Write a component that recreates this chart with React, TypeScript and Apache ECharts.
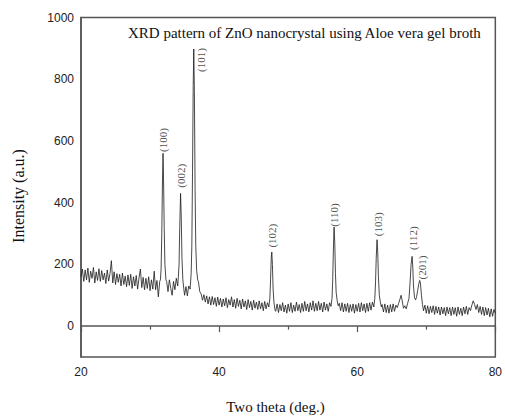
import React, { useEffect, useRef } from "react";
import * as echarts from "echarts";

// XRD pattern: [two theta (deg), intensity (a.u.)]
const region20to32: number[][] = [
  [20.0, 160], [20.2, 185], [20.4, 145], [20.6, 182], [20.8, 150], [21.0, 188], [21.2, 142], [21.4, 178],
  [21.6, 155], [21.8, 190], [22.0, 140], [22.2, 176], [22.4, 148], [22.6, 186], [22.8, 145], [23.0, 180],
  [23.2, 150], [23.4, 172], [23.6, 138], [23.8, 182], [24.0, 146], [24.2, 170], [24.4, 212], [24.6, 140],
  [24.8, 176], [25.0, 135], [25.2, 170], [25.4, 142], [25.6, 168], [25.8, 130], [26.0, 172], [26.2, 135],
  [26.4, 162], [26.6, 128], [26.8, 166], [27.0, 132], [27.2, 168], [27.4, 122], [27.6, 160], [27.8, 130],
  [28.0, 164], [28.2, 120], [28.4, 156], [28.6, 185], [28.8, 125], [29.0, 158], [29.2, 118], [29.4, 155],
  [29.6, 122], [29.8, 160], [30.0, 115], [30.2, 150], [30.4, 120], [30.6, 178], [30.8, 118], [31.0, 148],
  [31.2, 95], [31.4, 145], [31.5, 150], [31.6, 185], [31.7, 300], [31.8, 470], [31.88, 560], [31.95, 480],
  [32.05, 320], [32.15, 200], [32.3, 150],
];
const region32to39: number[][] = [
  [32.4, 145], [32.6, 112], [32.8, 150], [33.0, 122], [33.2, 100], [33.4, 145], [33.6, 118], [33.8, 155],
  [34.0, 130], [34.1, 160], [34.2, 200], [34.3, 320], [34.42, 430], [34.52, 350], [34.62, 220], [34.75, 150],
  [34.9, 118], [35.0, 100], [35.2, 128], [35.4, 98], [35.6, 130], [35.8, 120], [35.95, 170], [36.05, 260],
  [36.15, 500], [36.25, 780], [36.33, 898], [36.42, 760], [36.52, 450], [36.62, 260], [36.75, 180], [36.9, 150],
  [37.0, 145], [37.2, 112], [37.4, 104], [37.6, 84], [37.8, 102], [38.0, 78], [38.2, 98], [38.4, 72],
  [38.6, 95], [38.8, 68],
];
const region39to48: number[][] = [
  [39.0, 96], [39.2, 70], [39.4, 92], [39.6, 64], [39.8, 94], [40.0, 68], [40.2, 90], [40.4, 62],
  [40.6, 88], [40.8, 66], [41.0, 92], [41.2, 60], [41.4, 86], [41.6, 68], [41.8, 95], [42.0, 62],
  [42.2, 86], [42.4, 58], [42.6, 90], [42.8, 64], [43.0, 84], [43.2, 56], [43.4, 88], [43.6, 62],
  [43.8, 82], [44.0, 54], [44.2, 86], [44.4, 60], [44.6, 80], [44.8, 52], [45.0, 84], [45.2, 58],
  [45.4, 78], [45.6, 54], [45.8, 82], [46.0, 56], [46.2, 76], [46.4, 50], [46.6, 80], [46.8, 56],
  [47.0, 76], [47.2, 62], [47.35, 90], [47.45, 150], [47.55, 220], [47.63, 240], [47.72, 200], [47.82, 120],
  [47.95, 75], [48.1, 52],
];
const region48to57: number[][] = [
  [48.2, 48], [48.4, 72], [48.6, 44], [48.8, 70], [49.0, 50], [49.2, 76], [49.4, 46], [49.6, 68],
  [49.8, 42], [50.0, 72], [50.2, 48], [50.4, 76], [50.6, 44], [50.8, 68], [51.0, 48], [51.2, 78],
  [51.4, 50], [51.6, 70], [51.8, 44], [52.0, 74], [52.2, 48], [52.4, 80], [52.6, 50], [52.8, 72],
  [53.0, 46], [53.2, 76], [53.4, 52], [53.6, 82], [53.8, 48], [54.0, 74], [54.2, 50], [54.4, 80],
  [54.6, 52], [54.8, 74], [55.0, 46], [55.2, 78], [55.4, 52], [55.6, 72], [55.8, 48], [56.0, 76],
  [56.2, 64], [56.35, 90], [56.45, 150], [56.55, 250], [56.65, 321], [56.75, 270], [56.85, 170], [56.95, 110],
  [57.1, 82], [57.25, 66],
];
const region57to66: number[][] = [
  [57.4, 74], [57.6, 50], [57.8, 76], [58.0, 46], [58.2, 72], [58.4, 48], [58.6, 74], [58.8, 44],
  [59.0, 70], [59.2, 48], [59.4, 72], [59.6, 42], [59.8, 70], [60.0, 48], [60.2, 74], [60.4, 46],
  [60.6, 76], [60.8, 50], [61.0, 72], [61.2, 44], [61.4, 74], [61.6, 48], [61.8, 76], [62.0, 52],
  [62.2, 78], [62.4, 62], [62.55, 90], [62.65, 140], [62.75, 220], [62.87, 280], [62.97, 240], [63.07, 160],
  [63.2, 100], [63.35, 78], [63.5, 62], [63.6, 70], [63.8, 46], [64.0, 72], [64.2, 44], [64.4, 68],
  [64.6, 42], [64.8, 70], [65.0, 46], [65.2, 72], [65.4, 48], [65.6, 68], [65.8, 60],
];
const region66to70: number[][] = [
  [66.0, 74], [66.2, 88], [66.35, 100], [66.5, 84], [66.7, 58], [66.9, 66], [67.1, 56], [67.3, 74],
  [67.5, 90], [67.65, 140], [67.8, 200], [67.95, 226], [68.05, 190], [68.15, 130], [68.3, 92], [68.45, 85],
  [68.6, 95], [68.75, 115], [68.9, 135], [69.05, 148], [69.15, 140], [69.3, 100], [69.45, 70], [69.6, 50],
];
const region70to80: number[][] = [
  [69.8, 68], [70.0, 42], [70.2, 66], [70.4, 40], [70.6, 64], [70.8, 44], [71.0, 66], [71.2, 38],
  [71.4, 64], [71.6, 42], [71.8, 62], [72.0, 36], [72.2, 62], [72.4, 40], [72.6, 60], [72.8, 34],
  [73.0, 62], [73.2, 40], [73.4, 60], [73.6, 34], [73.8, 62], [74.0, 38], [74.2, 60], [74.4, 32],
  [74.6, 62], [74.8, 38], [75.0, 58], [75.2, 34], [75.4, 62], [75.6, 40], [75.8, 64], [76.0, 38],
  [76.2, 60], [76.4, 50], [76.6, 68], [76.8, 82], [77.0, 70], [77.2, 54], [77.4, 70], [77.6, 44],
  [77.8, 64], [78.0, 38], [78.2, 62], [78.4, 34], [78.6, 60], [78.8, 36], [79.0, 58], [79.2, 30],
  [79.4, 56], [79.6, 32], [79.8, 54], [80.0, 42],
];

// Peak labels (Miller indices): position of the label centre
const peakNames = ["(100)", "(002)", "(101)", "(102)", "(110)", "(103)", "(112)", "(201)"];
const peakLabelX = [31.94, 34.52, 37.42, 47.6, 56.66, 62.97, 68.03, 69.36];
const peakLabelY = [603, 487, 862, 293, 360, 330, 285, 190];

const yTickLabels = [0, 200, 400, 600, 800, 1000];
const xTickLabels = [20, 40, 60, 80];

const titleText = "XRD pattern of ZnO nanocrystal using Aloe vera gel broth";
const xName = "Two theta (deg.)";
const yName = "Intensity (a.u.)";

export default function App() {
  const ref = useRef<HTMLDivElement>(null);
  useEffect(() => {
    if (!ref.current) return;
    const chart = echarts.init(ref.current, undefined, { renderer: "svg" });
    const pattern = [
      ...region20to32,
      ...region32to39,
      ...region39to48,
      ...region48to57,
      ...region57to66,
      ...region66to70,
      ...region70to80,
    ];
    const labels = peakNames.map((n, i) => ({ value: [peakLabelX[i], peakLabelY[i]], name: n }));
    const axisColor = "#555";
    chart.setOption({
      animation: false,
      backgroundColor: "#fff",
      grid: {
        left: 81,
        right: 6,
        top: 17.5,
        bottom: 60,
        show: true,
        borderColor: axisColor,
        borderWidth: 1.5,
      },
      xAxis: {
        type: "value",
        min: 20,
        max: 80,
        interval: 20,
        axisLine: { show: true, lineStyle: { color: axisColor, width: 1.5 } },
        axisTick: { show: true, length: 6, lineStyle: { color: axisColor, width: 1.2 } },
        minorTick: { show: true, splitNumber: 2, length: 3.5, lineStyle: { color: axisColor, width: 1.2 } },
        splitLine: { show: false },
        axisLabel: {
          margin: 9,
          fontFamily: "Liberation Sans",
          fontSize: 12,
          color: "#222",
          formatter: (v: number) => (xTickLabels.includes(v) ? String(v) : ""),
        },
      },
      yAxis: {
        type: "value",
        min: -100,
        max: 1000,
        interval: 100,
        axisLine: { show: true, lineStyle: { color: axisColor, width: 1.5 } },
        axisTick: { show: false },
        splitLine: { show: false },
        axisLabel: {
          margin: 7,
          fontFamily: "Liberation Sans",
          fontSize: 12,
          color: "#222",
          formatter: (v: number) => (yTickLabels.includes(v) ? String(v) : ""),
        },
      },
      series: [
        {
          type: "line",
          data: pattern,
          symbol: "none",
          lineStyle: { color: "#1a1a1a", width: 0.8 },
          z: 2,
        },
        {
          type: "scatter",
          data: labels,
          symbolSize: 1,
          itemStyle: { color: "rgba(0,0,0,0)" },
          label: {
            show: true,
            position: "inside",
            rotate: 90,
            formatter: (p: any) => p.name,
            fontFamily: "Liberation Serif",
            fontSize: 11,
            color: "#222",
          },
          z: 3,
        },
      ],
      graphic: [
        {
          type: "text",
          left: 128,
          top: 25,
          style: { text: titleText, fontFamily: "Liberation Serif", fontSize: 15, fill: "#111" },
        },
        {
          type: "text",
          x: 18,
          y: 196,
          rotation: Math.PI / 2,
          style: {
            text: yName,
            fontFamily: "Liberation Serif",
            fontSize: 16,
            fill: "#111",
            align: "center",
            verticalAlign: "middle",
          },
        },
        {
          type: "text",
          x: 275.5,
          y: 407,
          style: {
            text: xName,
            fontFamily: "Liberation Serif",
            fontSize: 15,
            fill: "#111",
            align: "center",
            verticalAlign: "middle",
          },
        },
      ],
    });
    return () => chart.dispose();
  }, []);
  return <div ref={ref} style={{ width: 505, height: 417, position: "absolute", left: 0, top: 0 }} />;
}
